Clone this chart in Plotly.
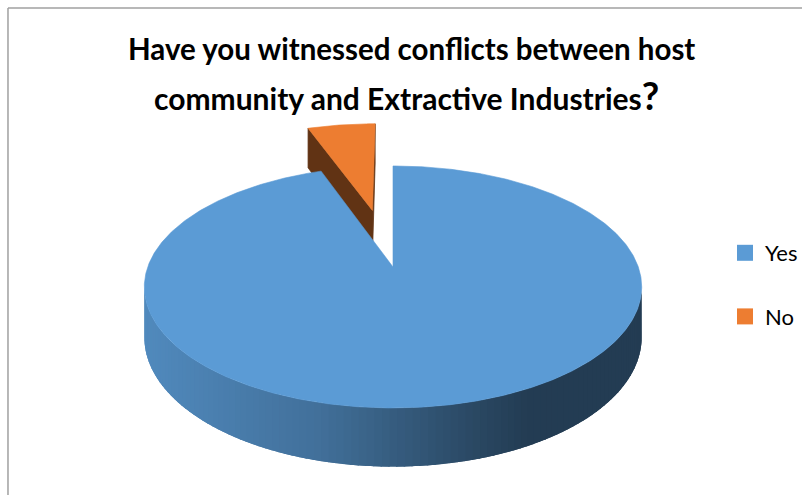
import numpy as np
import plotly.graph_objects as go

# ---- data ----
categories = ["Yes", "No"]
values = [94.5, 5.5]
slice_colors = ["#5B9BD5", "#ED7D31"]
explode = [0.0, 0.53]
title_line1 = "Have you witnessed conflicts between host"
title_line2 = "community and Extractive Industries"

# ---- pseudo-3D pie geometry (pixel space) ----
W, H = 803, 495
CX, CY, A, B, K, D = 393.5, 267.0, 245.6, 117.7, 0.165, 49.0
CAM = np.array([0.0, -1.0 / K])


def proj(u, v, s):
    w = 1 + K * v
    return CX + A * u / w, CY - B * v / w + D * s / w


def hex2rgb(h):
    h = h.lstrip("#")
    return np.array([int(h[i:i + 2], 16) for i in (0, 2, 4)], dtype=float)


def shade(base, f):
    c = np.clip(hex2rgb(base) * f, 0, 255).astype(int)
    return "rgb(%d,%d,%d)" % tuple(c)


def wall_factor(x):
    return float(np.interp(x, [145, 320, 400, 480, 530, 643],
                           [0.89, 0.725, 0.59, 0.46, 0.39, 0.39]))


fig = go.Figure()

total = float(sum(values))
fracs = [v / total for v in values]
starts = np.concatenate([[0.0], np.cumsum(fracs)[:-1]]) * 360.0
ends = np.cumsum(fracs) * 360.0

slices = []
for i in range(len(values)):
    mid = np.radians((starts[i] + ends[i]) / 2)
    ou, ov = explode[i] * np.sin(mid), explode[i] * np.cos(mid)
    slices.append((i, ou, ov, ov + np.cos(mid)))
# draw farthest first
slices.sort(key=lambda s: -s[3])


def poly(xs, ys, color, lw=0.8):
    fig.add_trace(go.Scatter(x=list(xs) + [xs[0]], y=list(ys) + [ys[0]], mode="lines",
                             fill="toself", fillcolor=color,
                             line=dict(color=color, width=lw),
                             hoverinfo="skip", showlegend=False))


for i, ou, ov, _ in slices:
    t0, t1 = np.radians(starts[i]), np.radians(ends[i])
    base = slice_colors[i]
    p0 = np.array([ou, ov])
    # radial faces
    for t, sign in ((t0, -1), (t1, 1)):
        n = sign * np.array([np.cos(t), -np.sin(t)])
        if np.dot(n, CAM - p0) > 0 and explode[i] > 0:
            ru, rv = ou + np.sin(t), ov + np.cos(t)
            pts = [proj(ou, ov, 0), proj(ru, rv, 0), proj(ru, rv, 1), proj(ou, ov, 1)]
            poly([p[0] for p in pts], [p[1] for p in pts], shade(base, 0.41))
    # outer wall strips (overlapping to avoid seams)
    nstep = max(2, int(np.degrees(t1 - t0) / 1.5) + 1)
    ts = np.linspace(t0, t1, nstep)
    step = ts[1] - ts[0]
    for a in ts[:-1]:
        b = min(a + 2.2 * step, t1)
        m = a + step / 2
        rim = np.array([ou + np.sin(m), ov + np.cos(m)])
        if np.dot(np.array([np.sin(m), np.cos(m)]), CAM - rim) <= 0:
            continue
        arc = np.linspace(a, b, 4)
        topp = [proj(ou + np.sin(t), ov + np.cos(t), 0) for t in arc]
        botp = [proj(ou + np.sin(t), ov + np.cos(t), 1) for t in arc[::-1]]
        q = topp + botp
        xm = proj(ou + np.sin(m), ov + np.cos(m), 0)[0]
        poly([p[0] for p in q], [p[1] for p in q], shade(base, wall_factor(xm)), lw=0)
    # top face
    tt = np.linspace(t0, t1, max(3, int(np.degrees(t1 - t0) * 2) + 1))
    pts = [proj(ou, ov, 0)] + [proj(ou + np.sin(t), ov + np.cos(t), 0) for t in tt]
    poly([p[0] for p in pts], [p[1] for p in pts], base, lw=0.6)

# legend entries
for name, col in zip(categories, slice_colors):
    fig.add_trace(go.Scatter(x=[None], y=[None], mode="markers", name=name,
                             legendgroup=name,
                             marker=dict(symbol="square", size=16, color=col)))

# chart border (top & left visible)
fig.add_shape(type="line", x0=8, y0=8, x1=W + 5, y1=8, line=dict(color="#A0A0A0", width=1.5))
fig.add_shape(type="line", x0=8, y0=8, x1=8, y1=H + 5, line=dict(color="#A0A0A0", width=1.5))

fig.add_annotation(x=412, y=48, xref="x", yref="y", text="<b>" + title_line1 + "</b>",
                   showarrow=False, font=dict(family="Lato", size=29.5, color="#000000"))
fig.add_annotation(x=407, y=95, xref="x", yref="y",
                   text="<b>" + title_line2 + "<span style='font-size:38px'>?</span></b>",
                   showarrow=False, font=dict(family="Lato", size=30, color="#000000"))

fig.update_layout(
    width=W, height=H,
    margin=dict(l=0, r=0, t=0, b=0),
    paper_bgcolor="white", plot_bgcolor="white",
    xaxis=dict(range=[0, W], visible=False, fixedrange=True),
    yaxis=dict(range=[H, 0], visible=False, fixedrange=True),
    showlegend=True,
    legend=dict(x=726 / W, xanchor="left", y=1 - 232 / H, yanchor="top",
                font=dict(family="Lato", size=22, color="#000000"),
                tracegroupgap=32, bgcolor="rgba(0,0,0,0)"),
)

fig.write_html("out.html")
